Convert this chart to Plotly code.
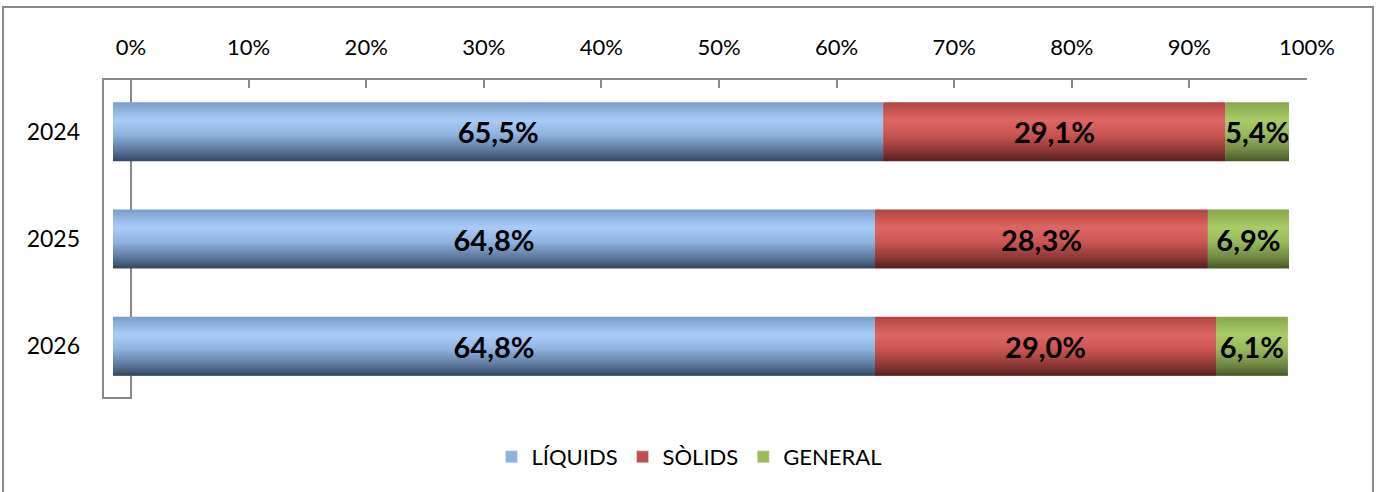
import plotly.graph_objects as go
import numpy as np

years = ["2024", "2025", "2026"]
series_names = ["LÍQUIDS", "SÒLIDS", "GENERAL"]
liquids = [65.5, 64.8, 64.8]
solids = [29.1, 28.3, 29.0]
general = [5.4, 6.9, 6.1]
tick_vals = [0, 10, 20, 30, 40, 50, 60, 70, 80, 90, 100]
tick_text = ["0%", "10%", "20%", "30%", "40%", "50%", "60%", "70%", "80%", "90%", "100%"]

legend_colors = ["#8DB4E2", "#C0504D", "#9BBB59"]
gradients = [
    [(0.0, "#7A9CCB"), (0.3, "#A9CDF8"), (0.55, "#8FB2DE"), (0.8, "#5F7BA1"), (1.0, "#354561")],
    [(0.0, "#B04542"), (0.3, "#DE6663"), (0.55, "#C95653"), (0.8, "#913A38"), (1.0, "#562120")],
    [(0.0, "#88A64C"), (0.3, "#A9CC67"), (0.55, "#98B95C"), (0.8, "#728B44"), (1.0, "#4A5A2A")],
]


def hex2rgb(h):
    h = h.lstrip("#")
    return np.array([int(h[i:i + 2], 16) for i in (0, 2, 4)], dtype=float)


def grad_color(stops, t):
    for (t0, c0), (t1, c1) in zip(stops[:-1], stops[1:]):
        if t <= t1:
            f = (t - t0) / (t1 - t0) if t1 > t0 else 0
            c = hex2rgb(c0) * (1 - f) + hex2rgb(c1) * f
            return "rgb(%d,%d,%d)" % tuple(np.round(c))
    c = hex2rgb(stops[-1][1])
    return "rgb(%d,%d,%d)" % tuple(c)


W, H = 1379, 492
values = [liquids, solids, general]
bases = [np.zeros(3), np.array(liquids), np.array(liquids) + np.array(solids)]

fig = go.Figure()
BW = 0.55
N = 30
d = BW / N
for s in range(3):
    for i in range(N):
        t = (i + 0.5) / N
        off = -BW / 2 + i * d
        wid = d * 1.8 if i < N - 1 else d
        fig.add_trace(go.Bar(
            x=values[s], y=years, base=bases[s], orientation="h",
            offset=off, width=wid,
            marker=dict(color=grad_color(gradients[s], t), line=dict(width=0)),
            showlegend=False, hoverinfo="skip",
        ))

# labels
for s in range(3):
    fig.add_trace(go.Bar(
        x=values[s], y=years, base=bases[s], orientation="h",
        offset=-BW / 2, width=BW,
        marker=dict(color="rgba(0,0,0,0)", line=dict(width=0)),
        texttemplate="%{x:.1f}%", textposition="inside", insidetextanchor="middle",
        constraintext="none",
        textfont=dict(family="Lato", size=29, color="black", weight="bold"),
        showlegend=False, hoverinfo="skip",
    ))

# legend entries
for s in range(3):
    fig.add_trace(go.Bar(
        x=[None], y=[None], name=series_names[s], orientation="h",
        marker=dict(color=legend_colors[s]), xaxis="x2", yaxis="y",
    ))

fig.update_layout(
    width=W, height=H,
    margin=dict(l=0, r=0, t=0, b=0, autoexpand=False),
    paper_bgcolor="white", plot_bgcolor="rgba(0,0,0,0)",
    barmode="overlay",
    separators=",.",
    font=dict(family="Lato", size=22, color="black"),
    xaxis=dict(domain=[113 / W, 1289 / W], range=[0, 100], visible=False, fixedrange=True,
               automargin=False),
    xaxis2=dict(domain=[131 / W, 1307 / W], range=[0, 100], side="top", anchor="free",
                position=1 - 79 / H, tickvals=tick_vals, ticktext=tick_text,
                ticks="inside", ticklen=8, tickwidth=2, tickcolor="#8A8A8A",
                showline=True, linecolor="#8A8A8A", linewidth=2, showgrid=False,
                zeroline=False, ticklabelstandoff=14, automargin=False,
                tickfont=dict(family="Lato", size=22, color="black")),
    yaxis=dict(domain=[1 - 400 / H, 1 - 78 / H], range=[2.5, -0.5], type="category",
               showgrid=False, showline=False, zeroline=False, ticks="",
               ticklabelstandoff=32, automargin=False,
               tickfont=dict(family="Lato", size=23, color="black")),
    legend=dict(orientation="h", x=0.5, xanchor="center", y=1 - 457 / H, yanchor="middle",
                font=dict(family="Lato", size=22, color="black"), bgcolor="rgba(0,0,0,0)"),
    shapes=[
        dict(type="rect", xref="paper", yref="paper", x0=103 / W, x1=131 / W,
             y0=1 - 398 / H, y1=1 - 79 / H, line=dict(color="#8A8A8A", width=2), layer="below"),
        dict(type="rect", xref="paper", yref="paper", x0=3 / W, x1=1373 / W,
             y0=-0.1, y1=1 - 7 / H, line=dict(color="#8A8A8A", width=2), layer="below"),
    ],
)

fig.write_html(
    "out.html",
    config={"displayModeBar": False},
    post_script="document.body.style.margin='0px';document.body.style.overflow='hidden';",
)
